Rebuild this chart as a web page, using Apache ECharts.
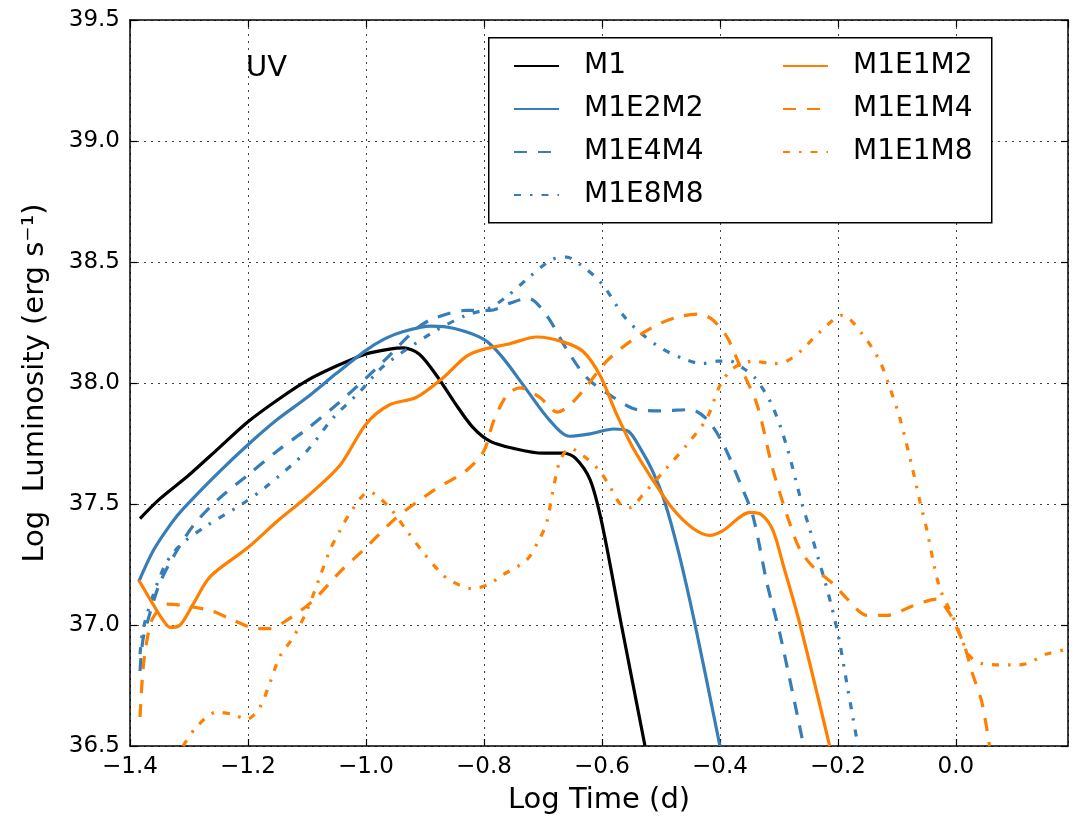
<!DOCTYPE html>
<html>
<head>
<meta charset="utf-8">
<script src="https://cdn.jsdelivr.net/npm/echarts@6/dist/echarts.min.js"></script>
<style>
  html, body { margin: 0; padding: 0; background: #ffffff; }
  #chart { width: 1072px; height: 820px; }
</style>
</head>
<body>
<div id="chart"></div>
<script>
// UV light curves: [log time (d), log luminosity (erg/s)]
const m1 = [
  [-1.383, 37.44], [-1.35, 37.52], [-1.30, 37.62], [-1.25, 37.73], [-1.20, 37.84],
  [-1.15, 37.93], [-1.10, 38.01], [-1.05, 38.07], [-1.00, 38.12], [-0.96, 38.14],
  [-0.937, 38.145], [-0.91, 38.12], [-0.88, 38.03], [-0.85, 37.92], [-0.82, 37.82],
  [-0.79, 37.76], [-0.75, 37.73], [-0.70, 37.71], [-0.665, 37.71], [-0.645, 37.69],
  [-0.62, 37.60], [-0.60, 37.42], [-0.567, 37.00], [-0.527, 36.50]
];
const m1e2m2 = [
  [-1.385, 37.18], [-1.36, 37.31], [-1.33, 37.42], [-1.31, 37.48], [-1.25, 37.63],
  [-1.20, 37.745], [-1.15, 37.85], [-1.10, 37.94], [-1.05, 38.04], [-1.00, 38.135],
  [-0.97, 38.18], [-0.94, 38.21], [-0.89, 38.235], [-0.85, 38.225], [-0.80, 38.18],
  [-0.77, 38.11], [-0.73, 37.98], [-0.69, 37.85], [-0.655, 37.78], [-0.62, 37.79],
  [-0.58, 37.81], [-0.555, 37.80], [-0.535, 37.73], [-0.515, 37.64], [-0.495, 37.52],
  [-0.47, 37.30], [-0.442, 37.00], [-0.40, 36.50]
];
const m1e4m4 = [
  [-1.383, 36.81], [-1.378, 36.94], [-1.366, 37.05], [-1.35, 37.17], [-1.327, 37.28],
  [-1.293, 37.41], [-1.25, 37.52], [-1.20, 37.62], [-1.15, 37.72], [-1.10, 37.81],
  [-1.05, 37.91], [-1.00, 38.02], [-0.97, 38.09], [-0.914, 38.225], [-0.886, 38.266],
  [-0.83, 38.30], [-0.79, 38.30], [-0.756, 38.33], [-0.725, 38.35], [-0.694, 38.28],
  [-0.66, 38.14], [-0.625, 38.02], [-0.58, 37.94], [-0.54, 37.89], [-0.50, 37.885],
  [-0.45, 37.89], [-0.422, 37.85], [-0.395, 37.75], [-0.363, 37.57], [-0.344, 37.45],
  [-0.32, 37.17], [-0.298, 36.96], [-0.258, 36.50]
];
const m1e8m8 = [
  [-1.383, 36.88], [-1.378, 36.98], [-1.362, 37.115], [-1.34, 37.25], [-1.315, 37.33],
  [-1.27, 37.41], [-1.21, 37.50], [-1.17, 37.57], [-1.10, 37.72], [-1.056, 37.855],
  [-1.01, 37.965], [-0.97, 38.07], [-0.886, 38.21], [-0.83, 38.28], [-0.79, 38.31],
  [-0.76, 38.36], [-0.722, 38.44], [-0.685, 38.51], [-0.66, 38.52], [-0.637, 38.49],
  [-0.60, 38.41], [-0.564, 38.28], [-0.536, 38.21], [-0.497, 38.14], [-0.456, 38.095],
  [-0.43, 38.08], [-0.405, 38.09], [-0.383, 38.09], [-0.36, 38.06], [-0.34, 38.02],
  [-0.312, 37.91], [-0.287, 37.74], [-0.262, 37.51], [-0.247, 37.39], [-0.234, 37.28],
  [-0.222, 37.18], [-0.21, 37.07], [-0.198, 36.94], [-0.185, 36.76], [-0.166, 36.50]
];
const m1e1m2 = [
  [-1.385, 37.185], [-1.361, 37.086], [-1.344, 37.02], [-1.332, 36.99], [-1.315, 37.00],
  [-1.293, 37.086], [-1.264, 37.20], [-1.20, 37.32], [-1.15, 37.43], [-1.10, 37.53],
  [-1.044, 37.66], [-1.00, 37.83], [-0.96, 37.91], [-0.915, 37.94], [-0.87, 38.02],
  [-0.83, 38.11], [-0.80, 38.14], [-0.76, 38.16], [-0.71, 38.19], [-0.666, 38.17],
  [-0.632, 38.13], [-0.603, 38.03], [-0.575, 37.87], [-0.547, 37.73], [-0.514, 37.60],
  [-0.48, 37.48], [-0.446, 37.40], [-0.417, 37.37], [-0.395, 37.39], [-0.349, 37.465],
  [-0.329, 37.455], [-0.31, 37.39], [-0.293, 37.25], [-0.264, 37.00], [-0.214, 36.50]
];
const m1e1m4 = [
  [-1.383, 36.62], [-1.378, 36.815], [-1.371, 36.94], [-1.361, 37.03], [-1.337, 37.086],
  [-1.31, 37.08], [-1.264, 37.06], [-1.225, 37.02], [-1.185, 36.985], [-1.163, 36.985],
  [-1.134, 37.02], [-1.09, 37.10], [-1.044, 37.22], [-1.00, 37.32], [-0.95, 37.44],
  [-0.886, 37.555], [-0.829, 37.64], [-0.80, 37.72], [-0.784, 37.84], [-0.761, 37.95],
  [-0.739, 37.98], [-0.705, 37.94], [-0.676, 37.88], [-0.654, 37.91], [-0.625, 37.99],
  [-0.592, 38.09], [-0.553, 38.17], [-0.507, 38.24], [-0.468, 38.275], [-0.434, 38.285],
  [-0.412, 38.26], [-0.388, 38.19], [-0.366, 38.07], [-0.337, 37.91], [-0.31, 37.64],
  [-0.281, 37.415], [-0.264, 37.31], [-0.242, 37.24], [-0.208, 37.17], [-0.185, 37.11],
  [-0.151, 37.04], [-0.117, 37.04], [-0.072, 37.08], [-0.033, 37.107], [-0.01, 37.045],
  [0.001, 36.99], [0.015, 36.91], [0.028, 36.80], [0.044, 36.68], [0.057, 36.50]
];
const m1e1m8 = [
  [-1.31, 36.50], [-1.287, 36.58], [-1.253, 36.64], [-1.225, 36.63], [-1.202, 36.61],
  [-1.18, 36.66], [-1.163, 36.76], [-1.146, 36.87], [-1.123, 36.95], [-1.10, 37.06],
  [-1.078, 37.20], [-1.061, 37.31], [-1.044, 37.39], [-1.025, 37.47], [-0.995, 37.55],
  [-0.96, 37.485], [-0.931, 37.39], [-0.903, 37.30], [-0.875, 37.22], [-0.858, 37.185],
  [-0.82, 37.15], [-0.79, 37.17], [-0.773, 37.20], [-0.727, 37.27], [-0.705, 37.36],
  [-0.694, 37.42], [-0.683, 37.555], [-0.671, 37.68], [-0.654, 37.73], [-0.632, 37.70],
  [-0.605, 37.64], [-0.586, 37.57], [-0.569, 37.50], [-0.553, 37.485], [-0.53, 37.54],
  [-0.49, 37.65], [-0.456, 37.745], [-0.422, 37.855], [-0.40, 37.99], [-0.378, 38.06],
  [-0.344, 38.09], [-0.31, 38.08], [-0.287, 38.09], [-0.264, 38.13], [-0.231, 38.21],
  [-0.192, 38.28], [-0.158, 38.20], [-0.129, 38.09], [-0.112, 37.98], [-0.095, 37.855],
  [-0.073, 37.64], [-0.061, 37.51], [-0.049, 37.39], [-0.039, 37.27], [-0.027, 37.15],
  [-0.01, 37.06], [0.001, 37.00], [0.01, 36.94], [0.024, 36.87], [0.046, 36.84],
  [0.097, 36.835], [0.12, 36.84], [0.154, 36.88], [0.19, 36.90]
];

const seriesNames = ['M1', 'M1E2M2', 'M1E4M4', 'M1E8M8', 'M1E1M2', 'M1E1M4', 'M1E1M8'];
const seriesData = [m1, m1e2m2, m1e4m4, m1e8m8, m1e1m2, m1e1m4, m1e1m8];

const BLACK = '#000000', BLUE = '#377eb8', ORANGE = '#ff7f00';
const DASHED = [13, 11];
const DASHDOT = [7, 9, 2.5, 9];
const styles = [
  { color: BLACK,  type: 'solid' },
  { color: BLUE,   type: 'solid' },
  { color: BLUE,   type: DASHED },
  { color: BLUE,   type: DASHDOT },
  { color: ORANGE, type: 'solid' },
  { color: ORANGE, type: DASHED },
  { color: ORANGE, type: DASHDOT }
];

const FONT = 'DejaVu Sans';
const fmt = v => (v < 0 ? '\u2212' : '') + Math.abs(v).toFixed(1);

const chart = echarts.init(document.getElementById('chart'), null, { renderer: 'canvas' });

const xCommon = { type: 'value', min: -1.4, max: 0.19, interval: 0.2 };
const yCommon = { type: 'value', min: 36.5, max: 39.5, interval: 0.5 };
const lineAxis = { show: true, onZero: false, lineStyle: { color: '#000', width: 1.5 } };
const tickIn = { show: true, inside: true, length: 7, lineStyle: { color: '#000', width: 1.2 } };
const grid = { show: true, type: [2, 5], color: '#444', width: 1 };

const legendText = { fontFamily: FONT, fontSize: 28, color: '#000', padding: [0, 0, 0, 20] };
const legendCommon = {
  orient: 'vertical', top: 47, itemWidth: 45, itemHeight: 14, itemGap: 15,
  textStyle: legendText, z: 20, selectedMode: false,
  itemStyle: { opacity: 0, borderWidth: 0 },
  lineStyle: { opacity: 1 }
};

chart.setOption({
  animation: false,
  backgroundColor: '#ffffff',
  grid: { left: 130, top: 20, right: 4, bottom: 71, containLabel: false },
  xAxis: [
    Object.assign({}, xCommon, {
      position: 'bottom',
      name: 'Log Time (d)', nameLocation: 'middle', nameGap: 40,
      nameTextStyle: { fontFamily: FONT, fontSize: 29, color: '#000' },
      axisLine: lineAxis, axisTick: tickIn,
      axisLabel: { fontFamily: FONT, fontSize: 23, color: '#000', margin: 10,
                   formatter: fmt, showMaxLabel: false },
      splitLine: { show: true, lineStyle: grid }
    }),
    Object.assign({}, xCommon, {
      position: 'top', axisLine: lineAxis, axisTick: tickIn,
      axisLabel: { show: false }, splitLine: { show: false }
    })
  ],
  yAxis: [
    Object.assign({}, yCommon, {
      position: 'left',
      name: 'Log  Luminosity (erg s\u207B\u00B9)', nameLocation: 'middle', nameGap: 80,
      nameTextStyle: { fontFamily: FONT, fontSize: 29, color: '#000' },
      axisLine: lineAxis, axisTick: tickIn,
      axisLabel: { fontFamily: FONT, fontSize: 23, color: '#000', margin: 10, formatter: v => v.toFixed(1) },
      splitLine: { show: true, lineStyle: grid }
    }),
    Object.assign({}, yCommon, {
      position: 'right', axisLine: lineAxis, axisTick: tickIn,
      axisLabel: { show: false }, splitLine: { show: false }
    })
  ],
  legend: [
    Object.assign({}, legendCommon, { data: seriesNames.slice(0, 4), left: 508 }),
    Object.assign({}, legendCommon, { data: seriesNames.slice(4), left: 777 })
  ],
  graphic: [
    {
      type: 'rect', left: 488, top: 37, z: 10,
      shape: { width: 503, height: 185 },
      style: { fill: '#ffffff', stroke: '#000000', lineWidth: 1.5 }
    },
    {
      type: 'text', left: 246, top: 54, z: 10,
      style: { text: 'UV', font: '29px "DejaVu Sans"', fill: '#000' }
    }
  ],
  series: seriesNames.map((name, i) => ({
    name: name,
    type: 'line',
    data: seriesData[i],
    smooth: 0.3,
    showSymbol: false,
    symbol: 'none',
    clip: true,
    color: styles[i].color,
    lineStyle: { color: styles[i].color, width: 3.2, type: styles[i].type }
  }))
});
</script>
</body>
</html>
